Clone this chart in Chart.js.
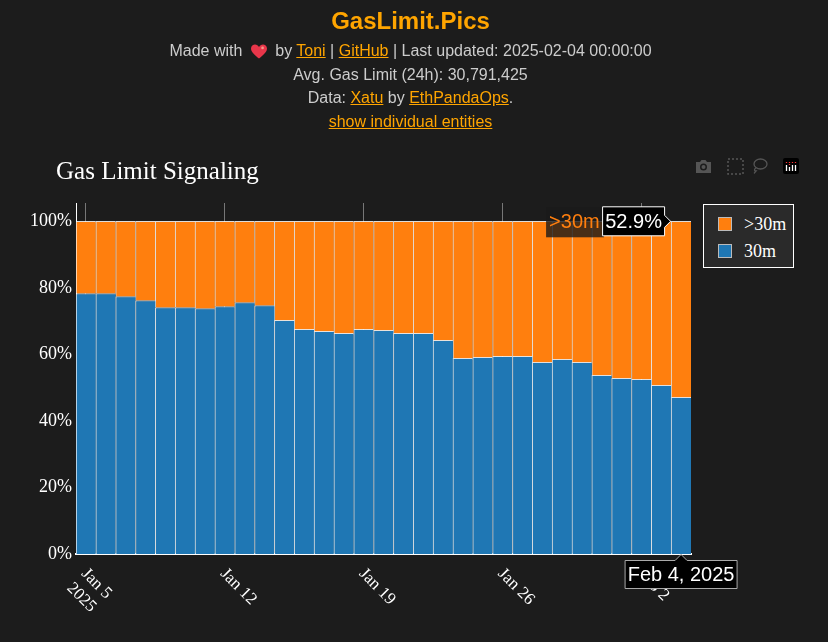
<!DOCTYPE html>
<html>
<head>
<meta charset="utf-8">
<title>GasLimit.Pics</title>
<script src="https://cdn.jsdelivr.net/npm/chart.js@4/dist/chart.umd.min.js"></script>
<style>
    html, body { margin: 0; padding: 0; background: #1c1c1c; width: 828px; height: 642px; overflow: hidden; }
    #chart { position: absolute; left: 0; top: 0; }
    #header { position: absolute; left: 0; top: 0; width: 821px; text-align: center; color: #ccc; font: 16px/23.7px "Liberation Sans", Arial, sans-serif; }
    #header h1 { margin: 6px 0 3px 0; font-size: 24px; line-height: 30px; color: #ffa500; font-weight: bold; }
    #header a { color: #ffa500; text-decoration: underline; }
    #header svg { vertical-align: -3px; margin: 0 4px; }
    #legend { position: absolute; left: 703px; top: 204px; width: 89px; height: 62px; border: 1px solid #fff; background: #2a2a2a; color: #fff; font: 18px "Liberation Serif", "Times New Roman", serif; }
    #legend div { position: absolute; white-space: nowrap; }
    #legend i { position: absolute; width: 12px; height: 12px; border: 1px solid #bbb; }
    .tool { position: absolute; top: 158px; }
</style>
</head>
<body>
<canvas id="chart" width="828" height="642"></canvas>
<div id="header">
    <h1>GasLimit.Pics</h1>
    <div>Made with <svg width="16" height="15" viewBox="0 0 18 16"><path d="M9 16 C5 12 0 9 0 4.5 C0 1.5 2.5 0 4.5 0 C6.5 0 8 1 9 3 C10 1 11.5 0 13.500 0 C15.500 0 18 1.500 18 4.500 C18 9 13 12 9 16Z" fill="#e8364a"/><circle cx="13" cy="4" r="1.500" fill="#f59a8a"/></svg> by <a href="#">Toni</a> | <a href="#">GitHub</a> | Last updated: 2025-02-04 00:00:00</div>
    <div>Avg. Gas Limit (24h): 30,791,425</div>
    <div>Data: <a href="#">Xatu</a> by <a href="#">EthPandaOps</a>.</div>
    <div><a href="#">show individual entities</a></div>
</div>
<svg class="tool" style="left:695px" width="17" height="16" viewBox="0 0 17 16"><path d="M1 4 H5 L6.500 2 H10.500 L12 4 H16 V15 H1Z" fill="#555"/><circle cx="8.500" cy="9" r="3.500" fill="#1c1c1c"/><circle cx="8.500" cy="9" r="2" fill="#555"/></svg>
<svg class="tool" style="left:727px" width="17" height="17" viewBox="0 0 17 17"><rect x="1" y="1" width="15" height="15" fill="none" stroke="#555" stroke-width="1.500" stroke-dasharray="2 2"/></svg>
<svg class="tool" style="left:751px" width="17" height="17" viewBox="0 0 17 17"><ellipse cx="9.500" cy="6" rx="6.500" ry="5" fill="none" stroke="#555" stroke-width="1.300"/><path d="M5 10 C3 11 3 13 5 13 C4 14 3.500 15 3 15.500" fill="none" stroke="#555" stroke-width="1.300"/></svg>
<svg class="tool" style="left:783px" width="16" height="16" viewBox="0 0 16 16"><rect width="16" height="16" rx="2" fill="#000"/><path d="M3.500 7V13M6.500 9V13M9.500 7V13M12.500 7V13" stroke="#fff" stroke-width="1.300"/><path d="M3.500 4V5M6.500 4V7M9.500 4V5M12.500 4V5" stroke="#f33" stroke-width="1.300" stroke-dasharray="1 1"/></svg>
<div id="legend"></div>

<script>
const dates = ['Jan 5', 'Jan 6', 'Jan 7', 'Jan 8', 'Jan 9', 'Jan 10', 'Jan 11', 'Jan 12', 'Jan 13', 'Jan 14', 'Jan 15',
    'Jan 16', 'Jan 17', 'Jan 18', 'Jan 19', 'Jan 20', 'Jan 21', 'Jan 22', 'Jan 23', 'Jan 24', 'Jan 25', 'Jan 26',
    'Jan 27', 'Jan 28', 'Jan 29', 'Jan 30', 'Jan 31', 'Feb 1', 'Feb 2', 'Feb 3', 'Feb 4'];
const limit30m = [78.3, 78.3, 77.4, 76.2, 74.1, 74.1, 73.8, 74.4, 75.6, 74.7, 70.2, 67.5, 66.9, 66.3, 67.5, 67.2,
    66.3, 66.3, 64.2, 58.8, 59.1, 59.4, 59.4, 57.6, 58.5, 57.6, 53.7, 52.8, 52.5, 50.7, 47.1];
const limitAbove30m = [21.7, 21.7, 22.6, 23.8, 25.9, 25.9, 26.2, 25.6, 24.4, 25.3, 29.8, 32.5, 33.1, 33.7, 32.5, 32.8,
    33.7, 33.7, 35.8, 41.2, 40.9, 40.6, 40.6, 42.4, 41.5, 42.4, 46.3, 47.2, 47.5, 49.3, 52.9];
const xTickDates = ['Jan 5', 'Jan 12', 'Jan 19', 'Jan 26', 'Feb 2'];
const yTicks = [0, 20, 40, 60, 80, 100];

const BLUE = '#1f77b4';
const ORANGE = '#ff7f0e';
const SERIF = '"Liberation Serif", "Times New Roman", serif';
const SANS = '"Liberation Sans", Arial, sans-serif';

function hoverBox(ctx, x, y, w, h, arrow, text) {
    // black plotly style hover box with a small pointer
    ctx.beginPath();
    ctx.moveTo(x, y);
    if (arrow === 'up') {
        ctx.lineTo(x + w * 0.5 - 6, y); ctx.lineTo(x + w * 0.5, y - 6); ctx.lineTo(x + w * 0.5 + 6, y);
    }
    ctx.lineTo(x + w, y);
    if (arrow === 'right') {
        ctx.lineTo(x + w, y + h * 0.5 - 6); ctx.lineTo(x + w + 6, y + h * 0.5); ctx.lineTo(x + w, y + h * 0.5 + 6);
    }
    ctx.lineTo(x + w, y + h);
    ctx.lineTo(x, y + h);
    ctx.closePath();
    ctx.fillStyle = '#000';
    ctx.fill();
    ctx.lineWidth = 1;
    ctx.strokeStyle = arrow === 'up' ? '#aaa' : '#fff';
    ctx.stroke();
    ctx.fillStyle = '#fff';
    ctx.font = '20px ' + SANS;
    ctx.textAlign = 'center';
    ctx.textBaseline = 'middle';
    ctx.fillText(text, x + w / 2, y + h / 2 + 1);
}

// hover state of the last bar, as in the screenshot
const hoverPlugin = {
    id: 'hover',
    afterLayout(chart) {
        chart.titleBlock.left = 56; // title sits right of the y labels
    },
    afterDraw(chart) {
        const { ctx, scales: { x, y } } = chart;
        const last = dates.length - 1;
        const px = x.getPixelForValue(last);
        const py = y.getPixelForValue(100);
        ctx.save();
        ctx.fillStyle = 'rgba(26,26,26,0.8)';
        ctx.fillRect(px - 135, py - 14, 58, 30);
        ctx.fillStyle = ORANGE;
        ctx.font = '20px ' + SANS;
        ctx.textAlign = 'left';
        ctx.textBaseline = 'middle';
        ctx.fillText('>30m', px - 132, py + 1);
        hoverBox(ctx, px - 78.5, py - 14.5, 62, 29, 'right', limitAbove30m[last].toFixed(1) + '%');
        hoverBox(ctx, px - 56, y.bottom + 6.5, 112, 28, 'up', dates[last].replace(' 4', ' 4,') + ' 2025');
        ctx.restore();
    }
};

const chart = new Chart(document.getElementById('chart'), {
    type: 'bar',
    data: {
        labels: dates,
        datasets: [
            { label: '30m', data: limit30m, backgroundColor: BLUE },
            { label: '>30m', data: limitAbove30m, backgroundColor: ORANGE }
        ].map(d => ({ ...d, borderColor: 'rgba(255,255,255,0.85)', borderWidth: { left: 1, top: 1, right: 0, bottom: 0 }, borderSkipped: false }))
    },
    options: {
        responsive: false,
        animation: false,
        devicePixelRatio: 1,
        barPercentage: 1,
        categoryPercentage: 1,
        layout: { padding: { left: 16, right: 137, top: 157, bottom: 0 } },
        plugins: {
            legend: { display: false },
            tooltip: { enabled: false },
            title: {
                display: true,
                text: 'Gas Limit Signaling',
                align: 'start',
                color: '#fff',
                font: { family: SERIF, size: 25, weight: 'normal' },
                padding: { top: 0, bottom: 16 }
            }
        },
        scales: {
            x: {
                stacked: true,
                afterBuildTicks: s => { s.ticks = s.ticks.filter(t => xTickDates.includes(dates[t.value])); },
                // rotated labels hang from their start, which Chart.js has no option for
                afterFit: s => { s.height = 88; s._getXAxisLabelAlignment = () => 'left'; },
                grid: { offset: false, color: '#777', lineWidth: 1, drawTicks: false },
                border: { color: '#fff', width: 2 },
                ticks: {
                    autoSkip: false,
                    minRotation: -45,
                    maxRotation: -45,
                    padding: 10,
                    labelOffset: -2,
                    color: '#fff',
                    font: { family: SERIF, size: 17 },
                    callback(value) {
                        const d = dates[value];
                        return d === 'Jan 5' ? [d, '2025'] : d;
                    }
                }
            },
            y: {
                stacked: true,
                min: 0,
                max: 105.5,
                afterBuildTicks: s => { s.ticks = yTicks.map(value => ({ value })); },
                afterFit: s => { s.width = 60; },
                grid: { display: false },
                border: { color: '#fff', width: 1 },
                ticks: {
                    padding: -4,
                    color: '#fff',
                    font: { family: SERIF, size: 18 },
                    callback: v => v + '%'
                }
            }
        }
    },
    plugins: [hoverPlugin]
});

// legend box, top trace first
const legend = document.getElementById('legend');
chart.data.datasets.slice().reverse().forEach((d, i) => {
    const top = 12 + i * 26.5;
    const swatch = document.createElement('i');
    swatch.style.cssText = `left:14px;top:${top}px;background:${d.backgroundColor}`;
    legend.appendChild(swatch);
    const label = document.createElement('div');
    label.style.cssText = `left:40px;top:${top - 3}px`;
    label.textContent = d.label;
    legend.appendChild(label);
});
</script>
</body>
</html>
